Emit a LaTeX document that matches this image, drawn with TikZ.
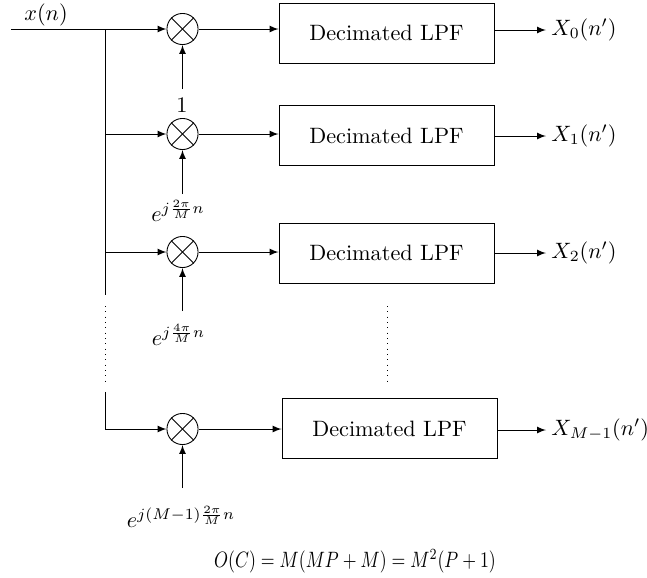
\documentclass[tikz,border=0pt]{standalone}
\usepackage{graphicx}
\usetikzlibrary{arrows}
\begin{document}
\begin{tikzpicture}[x=0.45pt,y=-0.45pt,>=latex,
  mixer/.style={draw,circle,minimum size=14pt,inner sep=0pt},
  lpf/.style={draw,rectangle,minimum width=96.75pt,minimum height=27pt,inner sep=0pt},
  outlabel/.style={anchor=west,inner sep=2.2pt},
  conn/.style={->}]
\useasboundingbox (0,0) rectangle (647,577);
% input
\coordinate (in) at (11,29);
\coordinate (br) at (105,29);
\node (xn) at (46,15) {$x(n)$};
% mixers
\node[mixer] (m1) at (182.5,29) {};
\node[mixer] (m2) at (182.5,134) {};
\node[mixer] (m3) at (182.5,252) {};
\node[mixer] (m4) at (182.5,429) {};
\foreach \m in {m1,m2,m3,m4}{
  \draw (\m.north west) -- (\m.south east);
  \draw (\m.north east) -- (\m.south west);
}
% boxes
\node[lpf] (b1) at (386.5,33) {Decimated LPF};
\node[lpf] (b2) at (386.5,135.5) {Decimated LPF};
\node[lpf] (b3) at (386.5,253) {Decimated LPF};
\node[lpf] (b4) at (389.5,428.5) {Decimated LPF};
% outputs
\node[outlabel] (o1) at (546,30) {$X_0(n')$};
\node[outlabel] (o2) at (546,136) {$X_1(n')$};
\node[outlabel] (o3) at (546,253) {$X_2(n')$};
\node[outlabel] (o4) at (546,430) {$X_{M-1}(n')$};
% branch points
\coordinate (v2) at (105,134);
\coordinate (v3) at (105,252);
\coordinate (d1) at (105,295);
\coordinate (d2) at (105,306);
\coordinate (d3) at (105,384);
\coordinate (d4) at (105,392);
\coordinate (v4) at (105,429);
% input lines
\draw[conn] (in) -- (m1.west);
\draw (br) -- (d1);
\draw[dotted] (d2) -- (d3);
\draw (d4) -- (v4);
\draw[conn] (v2) -- (m2.west);
\draw[conn] (v3) -- (m3.west);
\draw[conn] (v4) -- (m4.west);
% mixer to boxes
\draw[conn] (m1.east) -- (m1 -| b1.west);
\draw[conn] (m2.east) -- (m2 -| b2.west);
\draw[conn] (m3.east) -- (m3 -| b3.west);
\draw[conn] (m4.east) -- (m4 -| b4.west);
% box to outputs
\draw[conn] (o1.west -| b1.east) -- (o1.west);
\draw[conn] (o2.west -| b2.east) -- (o2.west);
\draw[conn] (o3.west -| b3.east) -- (o3.west);
\draw[conn] (o4.west -| b4.east) -- (o4.west);
% oscillator inputs
\coordinate (s1) at (182.5,89);
\coordinate (s2) at (182.5,194);
\coordinate (s3) at (182.5,311);
\coordinate (s4) at (182.5,488);
\node (l1) at (182,105) {$1$};
\node (l2) at (178,211) {$e^{j\frac{2\pi}{M}n}$};
\node (l3) at (178.5,335) {$e^{j\frac{4\pi}{M}n}$};
\node (l4) at (181,517) {$e^{j(M-1)\frac{2\pi}{M}n}$};
\draw[conn] (s1) -- (m1.south);
\draw[conn] (s2) -- (m2.south);
\draw[conn] (s3) -- (m3.south);
\draw[conn] (s4) -- (m4.south);
% dots between boxes
\coordinate (e1) at (387,306);
\coordinate (e2) at (387,384);
\draw[dotted] (e1) -- (e2);
% formula
\node (f) at (355,561) {\scalebox{0.8}[1]{$O(C)=M(MP+M)=M^2(P+1)$}};
\end{tikzpicture}
\end{document}
